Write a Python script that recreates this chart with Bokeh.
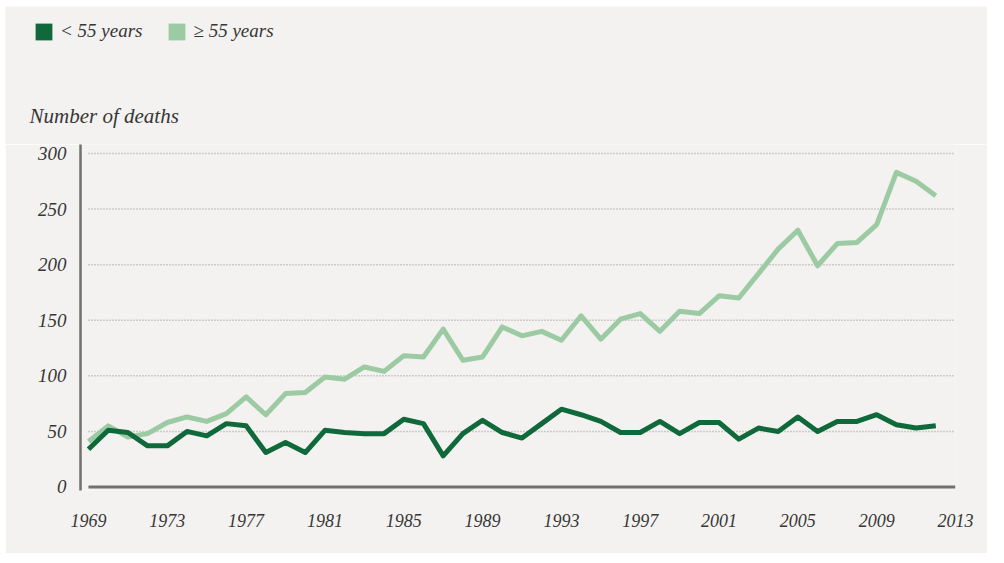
from bokeh.plotting import figure
from bokeh.models import Range1d, FixedTicker, Legend, LegendItem, Label
from bokeh.embed import file_html
from bokeh.resources import INLINE

years = list(range(1969, 2013))
under55 = [34, 51, 49, 37, 37, 50, 46, 57, 55, 31,
           40, 31, 51, 49, 48, 48, 61, 57, 28, 48,
           60, 49, 44, 57, 70, 65, 59, 49, 49, 59,
           48, 58, 58, 43, 53, 50, 63, 50, 59, 59,
           65, 56, 53, 55]
over55 = [41, 55, 45, 48, 58, 63, 59, 66, 81, 65,
          84, 85, 99, 97, 108, 104, 118, 117, 142, 114,
          117, 144, 136, 140, 132, 154, 133, 151, 156, 140,
          158, 156, 172, 170, 192, 214, 231, 199, 219, 220,
          236, 283, 275, 262]
x_ticks = list(range(1969, 2014, 4))
y_ticks = [0, 50, 100, 150, 200, 250, 300]
legend_labels = ["< 55 years", "\u2265 55 years"]
y_title = "Number of deaths"

DARK = "#10693a"
LIGHT = "#9ccaa3"
BG = "#f3f2f0"
TXT = "#363636"
AX = "#707070"
FONT = "Liberation Serif"
W = 982
NAN = float("nan")

# ---- header strip (legend + y title) ----
top = figure(width=W, height=138, output_backend="svg", toolbar_location=None,
             x_axis_type=None, y_axis_type=None,
             x_range=Range1d(0, 1), y_range=Range1d(0, 1),
             min_border=0, margin=(6, 0, 0, 5))
top.background_fill_color = BG
top.border_fill_color = BG
top.outline_line_color = None
top.xgrid.visible = False
top.ygrid.visible = False
# legend swatches only (no drawn geometry)
sq1 = top.quad(left=[NAN], right=[NAN], top=[NAN], bottom=[NAN],
               fill_color=DARK, line_color=None)
sq2 = top.quad(left=[NAN], right=[NAN], top=[NAN], bottom=[NAN],
               fill_color=LIGHT, line_color=None)
legend = Legend(items=[LegendItem(label=legend_labels[0], renderers=[sq1]),
                       LegendItem(label=legend_labels[1], renderers=[sq2])],
                location=(28, 102), orientation="horizontal",
                glyph_width=21, glyph_height=21, label_standoff=6, spacing=24,
                padding=0, margin=0, border_line_color=None,
                background_fill_alpha=0,
                label_text_font=FONT, label_text_font_style="italic",
                label_text_font_size="19px", label_text_color=TXT)
top.add_layout(legend)
top.add_layout(Label(x=24, y=29, x_units="screen", y_units="screen", text=y_title,
                     text_baseline="middle", text_font=FONT, text_font_style="italic",
                     text_font_size="21px", text_color=TXT))

# ---- main chart ----
p = figure(width=W, height=409, output_backend="svg", toolbar_location=None,
           x_range=Range1d(1968.595, 2013), y_range=Range1d(-3.15, 308.1),
           min_border_left=75, min_border_right=32, min_border_top=0,
           min_border_bottom=63, margin=(0, 0, 0, 5))
p.background_fill_color = BG
p.border_fill_color = BG
p.outline_line_color = None
p.xgrid.visible = False
p.ygrid.visible = False

p.segment(x0=[x_ticks[0]] * (len(y_ticks) - 1), y0=y_ticks[1:],
          x1=[x_ticks[-1]] * (len(y_ticks) - 1), y1=y_ticks[1:],
          line_color="#aaa4a4", line_width=1.5, line_dash="1 2")
p.segment(x0=[x_ticks[0]], y0=[y_ticks[0]], x1=[x_ticks[-1]], y1=[y_ticks[0]],
          line_color=AX, line_width=3)

p.line(years, over55, line_color=LIGHT, line_width=5, line_join="round")
p.line(years, under55, line_color=DARK, line_width=5, line_join="round")

xa = p.xaxis[0]
xa.ticker = FixedTicker(ticks=x_ticks)
xa.axis_line_color = None
xa.major_tick_line_color = None
xa.minor_tick_line_color = None
xa.major_tick_out = 0
xa.major_tick_in = 0
xa.major_label_standoff = 23
xa.major_label_text_font = FONT
xa.major_label_text_font_style = "italic"
xa.major_label_text_font_size = "18px"
xa.major_label_text_color = TXT

ya = p.yaxis[0]
ya.ticker = FixedTicker(ticks=y_ticks)
ya.axis_line_color = AX
ya.axis_line_width = 2.5
ya.major_tick_line_color = None
ya.minor_tick_line_color = None
ya.major_tick_out = 0
ya.major_tick_in = 0
ya.major_label_standoff = 14
ya.major_label_text_font = FONT
ya.major_label_text_font_style = "italic"
ya.major_label_text_font_size = "19px"
ya.major_label_text_color = TXT

open("out.html", "w").write(file_html([top, p], INLINE))
